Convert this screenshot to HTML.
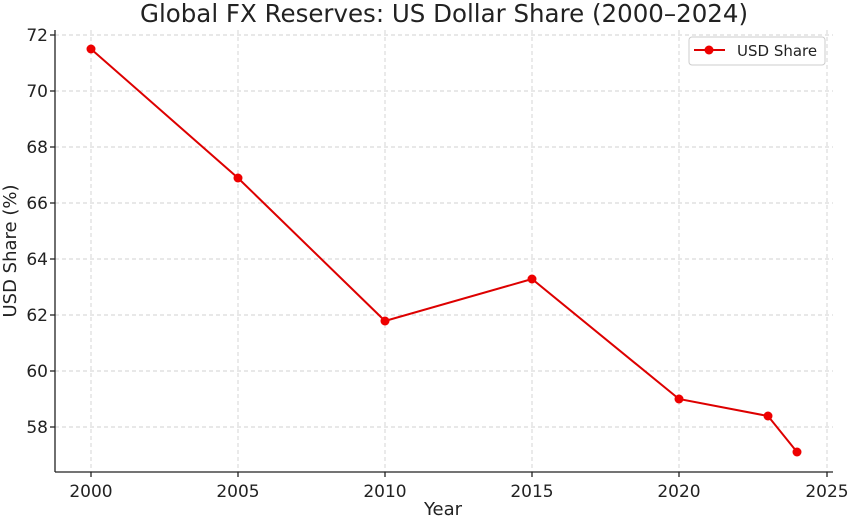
<!DOCTYPE html><html><head><style>body{margin:0;background:#fff}svg{display:block}text{font-family:"DejaVu Sans","Liberation Sans",sans-serif;fill:#222}</style></head><body>
<svg width="850" height="517" viewBox="0 0 850 517">
<g stroke="#d0d0d0" stroke-dasharray="4,3" stroke-width="0.9">
<line x1="91" y1="30" x2="91" y2="472"/><line x1="238" y1="30" x2="238" y2="472"/><line x1="385" y1="30" x2="385" y2="472"/><line x1="532" y1="30" x2="532" y2="472"/><line x1="679" y1="30" x2="679" y2="472"/><line x1="827" y1="30" x2="827" y2="472"/>
<line x1="55" y1="35" x2="833" y2="35"/><line x1="55" y1="91" x2="833" y2="91"/><line x1="55" y1="147" x2="833" y2="147"/><line x1="55" y1="203" x2="833" y2="203"/><line x1="55" y1="259" x2="833" y2="259"/><line x1="55" y1="315" x2="833" y2="315"/><line x1="55" y1="371" x2="833" y2="371"/><line x1="55" y1="427" x2="833" y2="427"/>
</g>
<g stroke="#222" stroke-width="1.3">
<line x1="55" y1="30" x2="55" y2="472"/><line x1="55" y1="472" x2="833" y2="472"/>
<line x1="50" y1="35" x2="55" y2="35"/><line x1="50" y1="91" x2="55" y2="91"/><line x1="50" y1="147" x2="55" y2="147"/><line x1="50" y1="203" x2="55" y2="203"/><line x1="50" y1="259" x2="55" y2="259"/><line x1="50" y1="315" x2="55" y2="315"/><line x1="50" y1="371" x2="55" y2="371"/><line x1="50" y1="427" x2="55" y2="427"/>
<line x1="91" y1="472" x2="91" y2="477"/><line x1="238" y1="472" x2="238" y2="477"/><line x1="385" y1="472" x2="385" y2="477"/><line x1="532" y1="472" x2="532" y2="477"/><line x1="679" y1="472" x2="679" y2="477"/><line x1="827" y1="472" x2="827" y2="477"/>
</g>
<g font-size="17" text-anchor="end">
<text x="48" y="41">72</text><text x="48" y="97">70</text><text x="48" y="153">68</text><text x="48" y="209">66</text><text x="48" y="265">64</text><text x="48" y="321">62</text><text x="48" y="377">60</text><text x="48" y="433">58</text>
</g>
<g font-size="17" text-anchor="middle">
<text x="91" y="497">2000</text><text x="238" y="497">2005</text><text x="385" y="497">2010</text><text x="532" y="497">2015</text><text x="679" y="497">2020</text><text x="827" y="497">2025</text>
<text x="443" y="515" font-size="18">Year</text>
<text x="444" y="22" font-size="24.5">Global FX Reserves: US Dollar Share (2000–2024)</text>
<text transform="translate(16,251) rotate(-90)" font-size="18">USD Share (%)</text>
</g>
<polyline fill="none" stroke="#d00" stroke-width="2" points="91,49 238,178 385,321 532,279 679,399 768,416 797,452"/>
<g fill="#e00">
<circle cx="91" cy="49" r="4.5"/><circle cx="238" cy="178" r="4.5"/><circle cx="385" cy="321" r="4.5"/><circle cx="532" cy="279" r="4.5"/><circle cx="679" cy="399" r="4.5"/><circle cx="768" cy="416" r="4.5"/><circle cx="797" cy="452" r="4.5"/>
</g>
<rect x="689" y="37" width="136" height="28" rx="3" fill="#fff" stroke="#ccc"/>
<line x1="694" y1="50" x2="725" y2="50" stroke="#d00" stroke-width="2"/><circle cx="709" cy="50" r="4.5" fill="#e00"/>
<text x="737" y="56" font-size="15">USD Share</text>
</svg></body></html>
